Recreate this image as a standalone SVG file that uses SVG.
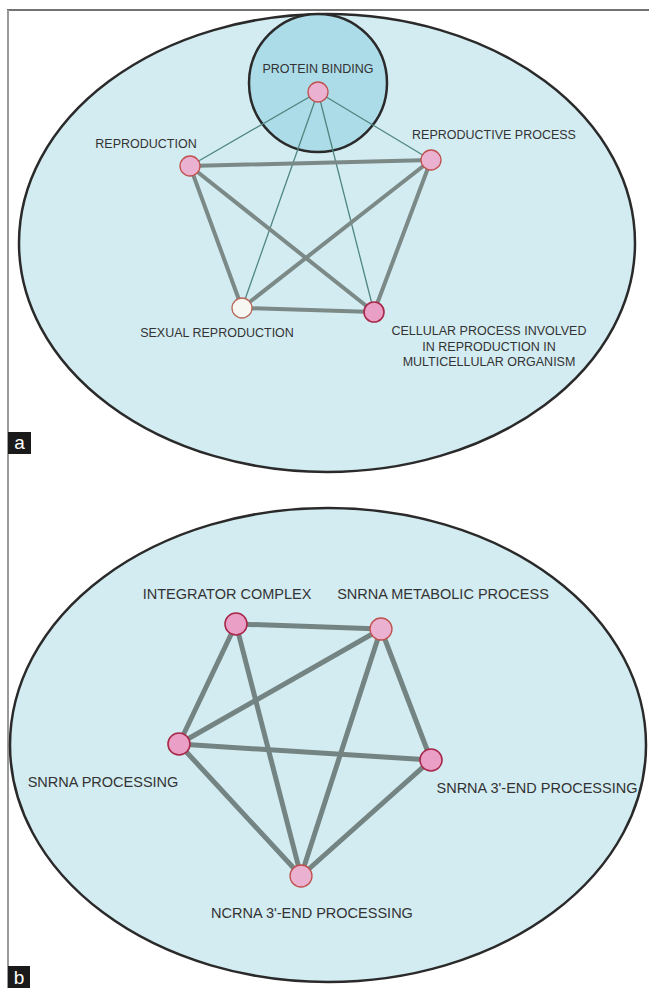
<svg xmlns="http://www.w3.org/2000/svg" width="649" height="988" viewBox="0 0 649 988">
<style>
.lbl{font-family:"Liberation Sans",Arial,sans-serif;fill:#333;text-anchor:middle}
.la{font-size:12.5px}
.lb{font-size:14.5px}
.big{fill:#d3ecf2;stroke:#2a2a2a;stroke-width:2.5}
.thin{stroke:#4f8680;stroke-width:1.3;fill:none}
.thick{stroke:#7b8987;stroke-width:4;fill:none;stroke-linecap:round}
.thickb{stroke:#748482;stroke-width:5;fill:none;stroke-linecap:round}
.na{fill:#eab1d0;stroke:#c0504d;stroke-width:1.3}
.nb{fill:#eaa0c6;stroke:#a8284a;stroke-width:1.6}
.tag{font-family:"Liberation Sans",Arial,sans-serif;font-size:19px;fill:#fff;text-anchor:middle}
</style>
<rect width="649" height="988" fill="#fff"/>
<g id="frame">
<line x1="7" y1="10" x2="649" y2="10" stroke="#444" stroke-width="1.5"/>
<line x1="8" y1="10" x2="8" y2="988" stroke="#999" stroke-width="2"/>
</g>
<g id="panel-a">
<ellipse id="cluster-a" class="big" cx="327" cy="243" rx="308" ry="229"/>
<ellipse id="cluster-protein" cx="318" cy="83" rx="69" ry="69" fill="#acdce8" stroke="#2a2a2a" stroke-width="2.5"/>
<g id="edges-a">
<line class="thin" x1="318" y1="92" x2="190" y2="166"/>
<line class="thin" x1="318" y1="92" x2="431" y2="160"/>
<line class="thin" x1="318" y1="92" x2="242" y2="308"/>
<line class="thin" x1="318" y1="92" x2="374" y2="312"/>
<line class="thick" x1="190" y1="166" x2="431" y2="160" stroke-width="5"/>
<line class="thick" x1="190" y1="166" x2="242" y2="308"/>
<line class="thick" x1="190" y1="166" x2="374" y2="312"/>
<line class="thick" x1="431" y1="160" x2="242" y2="308"/>
<line class="thick" x1="431" y1="160" x2="374" y2="312"/>
<line class="thick" x1="242" y1="308" x2="374" y2="312" stroke-width="5"/>
</g>
<g id="node-protein-binding"><circle class="na" cx="318" cy="92" r="10"/><text class="lbl la" x="318" y="73">PROTEIN BINDING</text></g>
<g id="node-reproduction"><circle class="na" cx="190" cy="166" r="10"/><text class="lbl la" x="146" y="148">REPRODUCTION</text></g>
<g id="node-reproductive-process"><circle class="na" cx="431" cy="160" r="10"/><text class="lbl la" x="494" y="139">REPRODUCTIVE PROCESS</text></g>
<g id="node-sexual-reproduction"><circle cx="242" cy="308" r="10" fill="#f6f6f2" stroke="#b86a5a" stroke-width="1.3"/><text class="lbl la" x="217" y="337">SEXUAL REPRODUCTION</text></g>
<g id="node-cellular-process"><circle class="nb" cx="374" cy="312" r="10"/><text class="lbl la" x="489" y="335">CELLULAR PROCESS INVOLVED</text><text class="lbl la" x="489" y="350.5">IN REPRODUCTION IN</text><text class="lbl la" x="489" y="366">MULTICELLULAR ORGANISM</text></g>
<g id="tag-a"><rect x="8" y="432" width="23" height="22" fill="#1a1a1a"/><text class="tag" x="19.5" y="449">a</text></g>
</g>
<g id="panel-b">
<ellipse id="cluster-b" class="big" cx="328" cy="745" rx="318" ry="237"/>
<g id="edges-b">
<line class="thickb" x1="236" y1="624" x2="381" y2="629"/>
<line class="thickb" x1="236" y1="624" x2="179" y2="744"/>
<line class="thickb" x1="236" y1="624" x2="301" y2="876"/>
<line class="thickb" x1="381" y1="629" x2="179" y2="744"/>
<line class="thickb" x1="381" y1="629" x2="431" y2="760"/>
<line class="thickb" x1="381" y1="629" x2="301" y2="876"/>
<line class="thickb" x1="179" y1="744" x2="431" y2="760"/>
<line class="thickb" x1="179" y1="744" x2="301" y2="876"/>
<line class="thickb" x1="431" y1="760" x2="301" y2="876"/>
</g>
<g id="node-integrator-complex"><circle class="nb" cx="236" cy="624" r="11"/><text class="lbl lb" x="227" y="599">INTEGRATOR COMPLEX</text></g>
<g id="node-snrna-metabolic"><circle class="na" cx="381" cy="629" r="11"/><text class="lbl lb" x="443" y="599">SNRNA METABOLIC PROCESS</text></g>
<g id="node-snrna-processing"><circle class="nb" cx="179" cy="744" r="11"/><text class="lbl lb" x="103" y="787">SNRNA PROCESSING</text></g>
<g id="node-snrna-3end"><circle class="nb" cx="431" cy="760" r="11"/><text class="lbl lb" x="537" y="793">SNRNA 3'-END PROCESSING</text></g>
<g id="node-ncrna-3end"><circle class="na" cx="301" cy="876" r="11"/><text class="lbl lb" x="312" y="918">NCRNA 3'-END PROCESSING</text></g>
<g id="tag-b"><rect x="8" y="966" width="22" height="22" fill="#1a1a1a"/><text class="tag" x="19" y="984">b</text></g>
</g>
</svg>
